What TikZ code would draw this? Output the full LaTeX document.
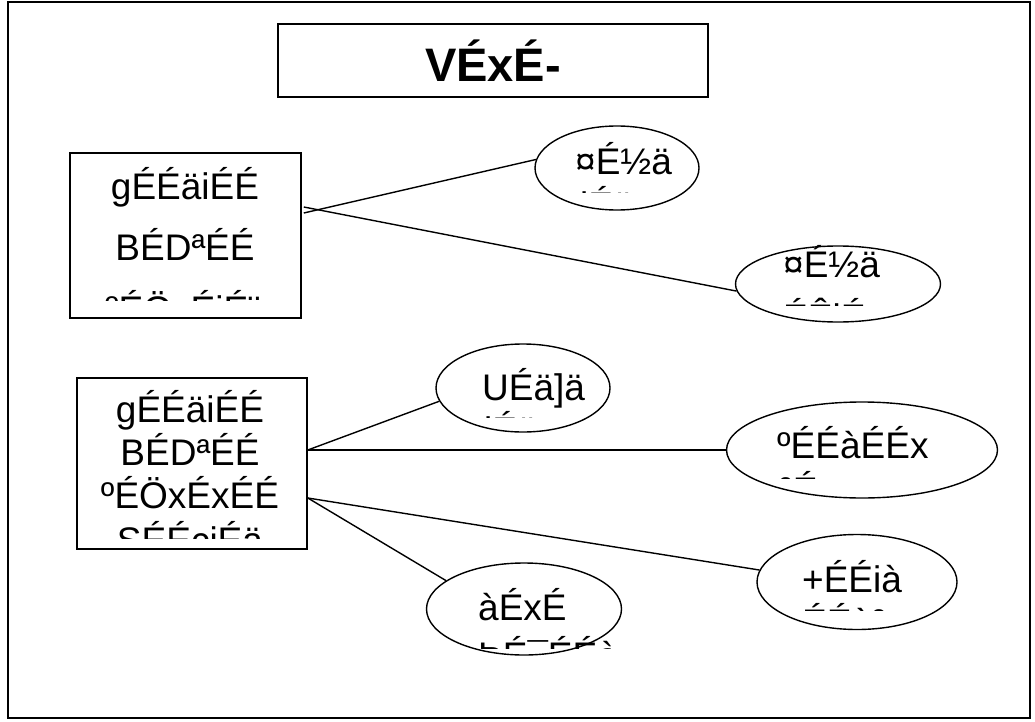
\documentclass[tikz,border=0pt]{standalone}
\usepackage{fontspec}
\setmainfont{Liberation Sans}
\usetikzlibrary{shapes.geometric}
\begin{document}
\begin{tikzpicture}[x=1pt,y=-1pt,
  frame/.style={draw,line width=2pt},
  box/.style={draw,line width=1.6pt,inner sep=0pt},
  oval/.style={draw,ellipse,line width=1.4pt,inner sep=0pt},
  link/.style={line width=1.4pt},
  txt/.style={font=\fontsize{37}{37}\selectfont,inner sep=0pt,anchor=base},
  txtl/.style={txt,anchor=base west},
  headtxt/.style={font=\fontsize{47}{47}\selectfont\bfseries,inner sep=0pt,anchor=base},
]
\useasboundingbox (0,0) rectangle (1035,722);
\draw[frame] (8,2) rectangle (1030,718);

% heading
\node[box,minimum width=430pt,minimum height=73pt] (title) at (493,60.5) {};
\node[headtxt] (titletxt) at (493,82) {VÉxÉ-};

% upper block and its two ovals
\node[box,minimum width=231pt,minimum height=165pt] (b1) at (185.5,235.5) {};
\node[txt] (b1l1) at (185,200) {gÉÉäiÉÉ};
\node[txt] (b1l2) at (185,260) {BÉDªÉÉ};
\begin{scope}
  \clip (72,270) rectangle (299,300);
  \node[txtl] (b1l3) at (105,322) {ºÉÖxÉiÉ¨};
\end{scope}

\node[oval,minimum width=164pt,minimum height=84pt] (e1) at (617,168) {};
\node[txtl] (e1l1) at (575,175) {¤É½ä};
\begin{scope}
  \clip (560,180) rectangle (680,192);
  \node[txtl] (e1l2) at (580,218) {iÉäx};
\end{scope}

\node[oval,minimum width=205pt,minimum height=76pt] (e2) at (838,284) {};
\node[txtl] (e2l1) at (783,277) {¤É½ä};
\begin{scope}
  \clip (770,285) rectangle (900,305);
  \node[txtl] (e2l2) at (783,330) {ÉÊiÉ};
\end{scope}

% lower block and its four ovals
\node[box,minimum width=230pt,minimum height=171pt] (b2) at (192,463.5) {};
\node[txt] (b2l1) at (190,422) {gÉÉäiÉÉ};
\node[txt] (b2l2) at (190,465) {BÉDªÉÉ};
\node[txt] (b2l3) at (190,508) {ºÉÖxÉxÉÉ};
\begin{scope}
  \clip (79,515) rectangle (305,538);
  \node[txt] (b2l4) at (190,553) {SÉÉciÉä};
\end{scope}

\node[oval,minimum width=174pt,minimum height=88pt] (e3) at (523,388) {};
\node[txtl] (e3l1) at (482,400) {UÉä]ä};
\begin{scope}
  \clip (470,405) rectangle (600,417);
  \node[txtl] (e3l2) at (484,443) {iÉäx};
\end{scope}

\node[oval,minimum width=271pt,minimum height=96pt] (e4) at (862,450) {};
\node[txtl] (e4l1) at (777,458) {ºÉÉàÉÉx};
\begin{scope}
  \clip (765,466) rectangle (960,478);
  \node[txtl] (e4l2) at (779,503) {ªÉx};
\end{scope}

\node[oval,minimum width=195pt,minimum height=92pt] (e5) at (524,609) {};
\node[txtl] (e5l1) at (478,620) {àÉxÉ};
\begin{scope}
  \clip (465,628) rectangle (610,648);
  \node[txtl] (e5l2) at (478,668) {ÞÉ¯ÉÉè};
\end{scope}

\node[oval,minimum width=200pt,minimum height=95pt] (e6) at (857,582) {};
\node[txtl] (e6l1) at (802,592) {+ÉÉià};
\begin{scope}
  \clip (790,598) rectangle (930,610);
  \node[txtl] (e6l2) at (802,635) {ÉÉèº};
\end{scope}

% connectors
\draw[link] ([xshift=2pt,yshift=22.5pt]b1.east) -- (e1.174);
\draw[link] ([xshift=2pt,yshift=28.5pt]b1.east) -- (e2.184);
\draw[link] ([yshift=13.5pt]b2.east) -- (e3.189);
\draw[link] ([yshift=13.5pt]b2.east) -- (e4.west);
\draw[link] ([yshift=-34.5pt]b2.east) -- (e6.173);
\draw[link] ([yshift=-34.5pt]b2.east) -- (e5.160);
\end{tikzpicture}
\end{document}
